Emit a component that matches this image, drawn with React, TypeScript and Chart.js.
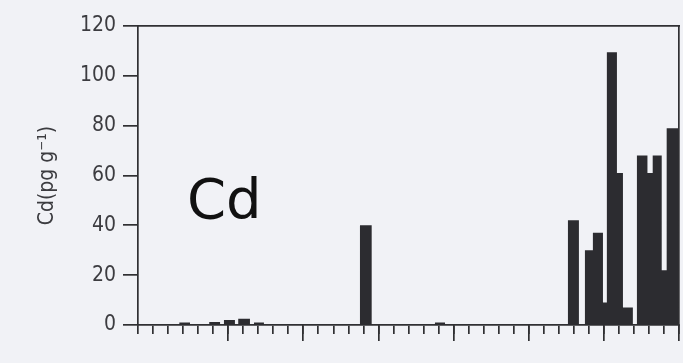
import React, { useEffect, useRef } from "react";
import { Chart, registerables } from "chart.js";

Chart.register(...registerables);

// Histogram bins along the (unlabelled) x axis, in tick units, and Cd per bin.
const binEdges = [
  0, 2.75, 3.46, 4.74, 5.46, 5.72, 6.45, 6.67, 7.45, 7.72, 8.38, 14.77, 15.55, 19.76, 20.43,
  28.61, 29.34, 29.74, 30.27, 30.94, 31.2, 31.87, 32.27, 32.93, 33.2, 33.9, 34.25, 34.85, 35.18,
  35.95, 36,
];
const cdValues = [
  0, 1, 0, 1.2, 0, 2, 0, 2.5, 0, 1, 0, 40, 0, 1, 0,
  42, 0, 30, 37, 9, 109.5, 61, 7, 0, 68, 61, 68, 22, 79, 0,
];
const xMin = 0;
const xMax = 36;
const majorTicks = [6, 11, 16, 21, 26, 31, 36];
const yMin = 0;
const yMax = 120;
const yStep = 20;
const yTitle = "Cd(pg g\u207B\u00B9)";
const overlayLabel = "Cd";

const INK = "#303033";
const BAR = "#2c2c30";
const TEXT = "#3c3c40";

export default function App() {
  const canvasRef = useRef<HTMLCanvasElement | null>(null);

  useEffect(() => {
    const canvas = canvasRef.current;
    if (!canvas) return;
    const points = cdValues.map((v, i) => ({ x: binEdges[i], y: v }));
    points.push({ x: binEdges[binEdges.length - 1], y: 0 });

    const chart = new Chart(canvas, {
      type: "line",
      data: {
        datasets: [
          {
            data: points,
            stepped: true,
            fill: "origin",
            backgroundColor: BAR,
            borderColor: BAR,
            borderWidth: 0,
            pointRadius: 0,
            xAxisID: "x",
            yAxisID: "y",
          },
        ],
      },
      options: {
        responsive: false,
        animation: false,
        events: [],
        layout: { padding: { left: 35, right: 4, top: 26, bottom: 29 } },
        plugins: { legend: { display: false }, tooltip: { enabled: false } },
        scales: {
          x: {
            type: "linear",
            position: "bottom",
            min: xMin,
            max: xMax,
            ticks: { display: false, stepSize: 1, autoSkip: false },
            grid: { drawOnChartArea: false, drawTicks: true, tickLength: 9, color: INK, lineWidth: 1.7 },
            border: { display: true, color: INK, width: 1.7 },
            afterFit: (s: any) => { s.height = 9; },
          },
          xMajor: {
            type: "linear",
            axis: "x",
            position: { y: 0 } as any,
            min: xMin,
            max: xMax,
            ticks: { display: false },
            afterBuildTicks: (s: any) => { s.ticks = majorTicks.map((v) => ({ value: v })); },
            grid: { drawOnChartArea: false, drawTicks: true, tickLength: 16, color: INK, lineWidth: 1.7 },
            border: { display: false },
          },
          xTop: {
            type: "linear",
            axis: "x",
            position: "top",
            min: xMin,
            max: xMax,
            ticks: { display: false },
            grid: { display: false, drawTicks: false },
            border: { display: true, color: INK, width: 1.7 },
            afterFit: (s: any) => { s.height = 0; },
          },
          y: {
            type: "linear",
            position: "left",
            min: yMin,
            max: yMax,
            ticks: {
              stepSize: yStep,
              color: TEXT,
              padding: 7,
              font: { family: "'DejaVu Sans Condensed', 'DejaVu Sans', sans-serif", size: 21 },
            },
            grid: { drawOnChartArea: false, drawTicks: true, tickLength: 15, color: INK, lineWidth: 1.7 },
            border: { display: true, color: INK, width: 1.7 },
            title: {
              display: true,
              text: yTitle,
              color: TEXT,
              padding: { top: 0, bottom: 0 },
              font: { family: "'DejaVu Sans Condensed', 'DejaVu Sans', sans-serif", size: 21 },
            },
            afterFit: (s: any) => { s.width = 103; },
          },
          yRight: {
            type: "linear",
            axis: "y",
            position: "right",
            min: yMin,
            max: yMax,
            ticks: { display: false },
            grid: { display: false, drawTicks: false },
            border: { display: true, color: INK, width: 1.7 },
            afterFit: (s: any) => { s.width = 0; },
          },
        },
      },
    });
    return () => chart.destroy();
  }, []);

  return (
    <div
      style={{
        position: "absolute",
        left: 0,
        top: 0,
        width: 683,
        height: 363,
        background: "#f1f2f6",
        overflow: "hidden",
      }}
    >
      <canvas ref={canvasRef} width={683} height={363} style={{ display: "block" }} />
      <div
        style={{
          position: "absolute",
          left: 187,
          top: 171,
          fontFamily: "'DejaVu Sans', sans-serif",
          fontSize: 56,
          lineHeight: "56px",
          fontWeight: 500,
          color: "#111",
          pointerEvents: "none",
        }}
      >
        {overlayLabel}
      </div>
    </div>
  );
}
